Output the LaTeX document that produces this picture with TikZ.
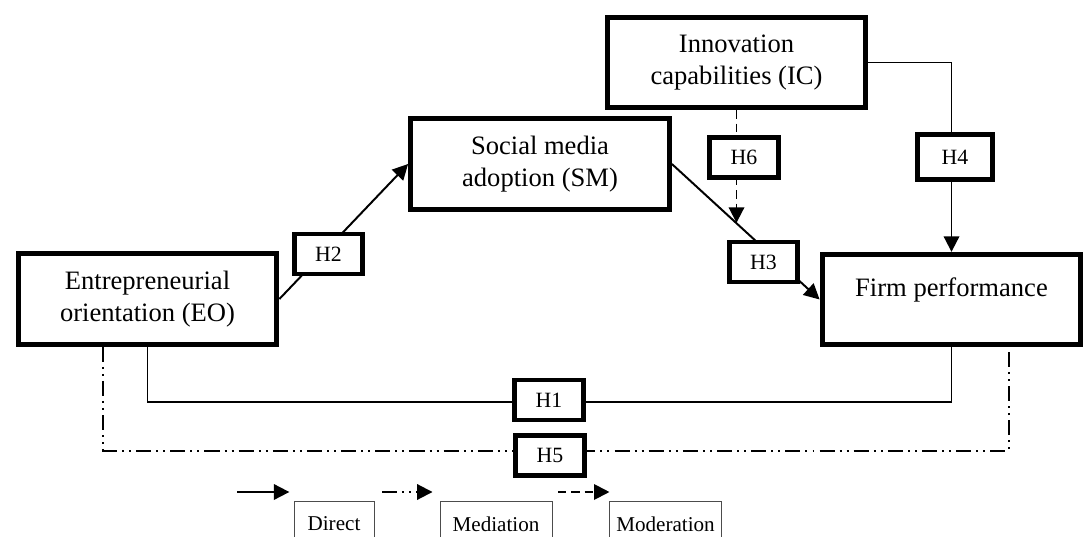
\documentclass[tikz,border=0pt]{standalone}
\usepackage{fontspec}
\setmainfont{Liberation Serif}
\usetikzlibrary{arrows.meta,positioning,calc}

\begin{document}
\begin{tikzpicture}
    %% setup
    [
        x=0.025cm, y=-0.025cm,
        >={Triangle[length=11pt,width=11pt]},
        constructnode/.style={rectangle, draw=black, fill=white, line width=3.5pt, minimum width=6.47cm, minimum height=2.26cm, align=center, font=\fontsize{18.9}{22.8}\selectfont},
        hypnode/.style={rectangle, draw=black, fill=white, line width=3.5pt, minimum width=1.72cm, minimum height=1cm, font=\fontsize{15.5}{17}\selectfont},
        legendnode/.style={rectangle, draw=black!70, line width=0.6pt, minimum height=1.15cm, font=\fontsize{15}{17}\selectfont},
        link/.style={line width=1.4pt},
        mediation/.style={line width=1.4pt, dash pattern=on 10.7pt off 3.6pt on 1.4pt off 3.6pt on 1.4pt off 3.6pt},
        moderation/.style={line width=1.4pt, dash pattern=on 6pt off 3.5pt},
    ]
    \useasboundingbox (0,0) rectangle (1090,537);
    \clip (0,0) rectangle (1090,537);

    %% Nodes
    \node [constructnode] (eo) at (147.5,299) {Entrepreneurial\\orientation (EO)};
    \node [constructnode] (sm) at (540,164) {Social media\\adoption (SM)};
    \node [constructnode] (ic) at (736.5,62.5) {Innovation\\capabilities (IC)};
    \node [constructnode, text depth=18pt] (fp) at (951.5,299.5) {Firm performance};

    %% Lines
    \draw[link,->] (eo.east) -- (sm.west);
    \draw[link,->] (sm.east) -- coordinate[pos=0.434] (hit) (fp.west);
    \draw[moderation,->] (ic.south) -- (ic.south |- hit);
    \draw[link,->] (ic.east) -| (fp.north);
    \draw[link] (eo.south) -- ++(0,55) -| (fp.south);
    \draw[mediation] ($(eo.south west)!0.333!(eo.south east)$) -- ++(0,104) -| ($(fp.south west)!0.718!(fp.south east)$);

    %% Hypotheses
    \node [hypnode] (h2) at (328.5,254) {H2};
    \node [hypnode] (h3) at (763.5,262) {H3};
    \node [hypnode] (h6) at (744,157.5) {H6};
    \node [hypnode, minimum width=1.875cm, minimum height=1.125cm] (h4) at (955,157) {H4};
    \node [hypnode] (h1) at (549,400) {H1};
    \node [hypnode] (h5) at (550,455.5) {H5};

    %% Legend
    \node [legendnode, minimum width=2cm] (direct) at (334,524) {Direct};
    \node [legendnode, minimum width=2.8cm] (mediationkey) at (496,524) {Mediation};
    \node [legendnode, minimum width=2.78cm] (moderationkey) at (665.5,524) {Moderation};
    \coordinate (directstart) at (237,492);
    \coordinate (mediationstart) at (382,492);
    \coordinate (moderationstart) at (558,492);
    \draw[link,->,shorten >=3pt] (directstart) -- (directstart -| direct.west);
    \draw[mediation,->,shorten >=5pt] (mediationstart) -- (mediationstart -| mediationkey.west);
    \draw[moderation,->] (moderationstart) -- (moderationstart -| moderationkey.west);
\end{tikzpicture}
\end{document}
